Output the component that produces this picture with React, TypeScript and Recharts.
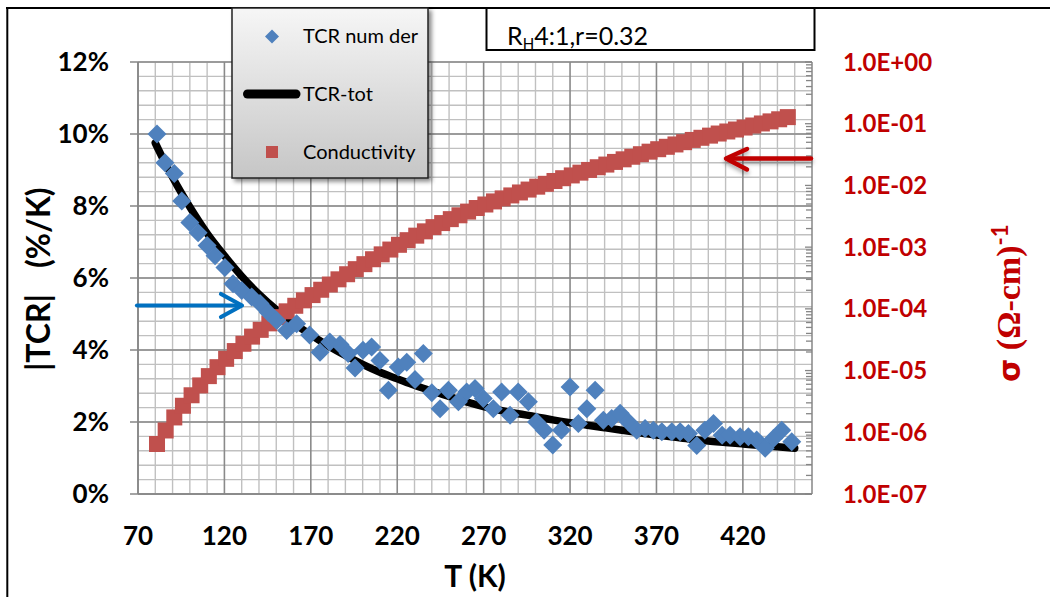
import React from 'react';
import { ComposedChart, XAxis, YAxis, CartesianGrid, Scatter, Line } from 'recharts';

// ---- data ----
const TCR_T = [
  81, 85.6, 91, 95.3, 100, 104.8, 110, 114.6, 120.3, 125,
  130, 135.8, 140.6, 145.4, 150.3, 156, 161.8, 169.3, 175.3, 181,
  186.9, 191.6, 195.6, 200.2, 205.2, 210, 214.9, 220.6, 225.5, 230.3,
  235.1, 240, 244.8, 249.6, 255.4, 260.2, 265, 269.8, 275.6, 280.4,
  285.3, 290, 295.9, 300.6, 305, 310, 315, 320, 324.8, 329.7,
  334.5, 339.3, 344.1, 349, 353.8, 358.6, 363.4, 368.2, 373.1, 378.9,
  383.7, 388.5, 393.3, 398, 403, 408, 412.6, 418.4, 423.2, 428,
  432.9, 437.7, 442.5, 448.3,
];
const TCR_NUM_DER = [
  10.0, 9.2, 8.9, 8.14, 7.54, 7.26, 6.9, 6.62, 6.29, 5.84,
  5.65, 5.47, 5.29, 5.04, 4.82, 4.54, 4.73, 4.42, 3.94, 4.22,
  4.15, 3.9, 3.5, 3.99, 4.08, 3.71, 2.88, 3.53, 3.66, 3.18,
  3.9, 2.81, 2.37, 2.88, 2.56, 2.83, 2.93, 2.65, 2.37, 2.83,
  2.19, 2.83, 2.56, 2.0, 1.77, 1.36, 1.77, 2.97, 1.96, 2.37,
  2.88, 2.05, 2.1, 2.24, 2.0, 1.77, 1.82, 1.77, 1.73, 1.73,
  1.73, 1.68, 1.35, 1.77, 1.96, 1.63, 1.63, 1.59, 1.59, 1.5,
  1.27, 1.54, 1.77, 1.45,
];

const TOT_T = [
  80, 85, 90, 95, 100, 110, 120, 130, 140, 150, 160, 170, 180, 190, 200,
  210, 220, 230, 240, 250, 260, 270, 280, 290, 300, 310, 320, 330, 340,
  350, 360, 370, 380, 390, 400, 410, 420, 430, 440, 450,
];
const TCR_TOT = [
  9.75, 9.26, 8.8, 8.37, 7.97, 7.24, 6.62, 6.05, 5.55, 5.12, 4.75, 4.42, 4.12, 3.85, 3.6,
  3.38, 3.2, 3.02, 2.86, 2.71, 2.56, 2.43, 2.32, 2.23, 2.15, 2.06, 1.98, 1.91, 1.84,
  1.77, 1.7, 1.64, 1.58, 1.52, 1.47, 1.43, 1.39, 1.35, 1.31, 1.27,
];

const COND_T = [
  81, 86, 91, 96, 101, 106, 111, 116, 121, 126, 131, 136, 141, 146, 151, 156, 161, 166,
  171, 176, 181, 186, 191, 196, 201, 206, 211, 216, 221, 226, 231, 236, 241, 246, 251,
  256, 261, 266, 271, 276, 281, 286, 291, 296, 301, 306, 311, 316, 321, 326, 331, 336,
  341, 346, 351, 356, 361, 366, 371, 376, 381, 386, 391, 396, 401, 406, 411, 416, 421,
  426, 431, 436, 441, 446,
];
const CONDUCTIVITY = [
  6.46e-7,
  1.07e-6, 1.74e-6, 2.69e-6, 3.98e-6, 5.75e-6, 8.13e-6,
  1.135e-5, 1.55e-5, 2.07e-5, 2.72e-5, 3.55e-5, 4.57e-5, 5.82e-5, 7.33e-5, 9.12e-5,
  1.122e-4, 1.374e-4, 1.671e-4, 2.04e-4, 2.48e-4, 3.01e-4, 3.64e-4, 4.4e-4, 5.3e-4, 6.37e-4, 7.64e-4, 9.14e-4,
  1.091e-3, 1.297e-3, 1.535e-3, 1.803e-3, 2.109e-3, 2.455e-3, 2.844e-3, 3.281e-3, 3.767e-3, 4.305e-3,
  4.909e-3, 5.508e-3, 6.166e-3, 6.887e-3, 7.691e-3, 8.57e-3, 9.55e-3,
  1.062e-2, 1.18e-2, 1.309e-2, 1.452e-2, 1.611e-2, 1.782e-2, 1.972e-2, 2.178e-2, 2.404e-2, 2.649e-2,
  2.917e-2, 3.206e-2, 3.524e-2, 3.864e-2, 4.227e-2, 4.613e-2, 5.023e-2, 5.458e-2, 5.916e-2, 6.412e-2,
  6.934e-2, 7.482e-2, 8.054e-2, 8.67e-2, 9.354e-2,
  0.1009, 0.1091, 0.118, 0.1279,
];

const X_TICKS = [70, 120, 170, 220, 270, 320, 370, 420];
const X_MINOR = [80, 90, 100, 110, 130, 140, 150, 160, 180, 190, 200, 210, 230, 240, 250, 260,
  280, 290, 300, 310, 330, 340, 350, 360, 380, 390, 400, 410, 430, 440, 450];
const LEFT_TICKS = [0, 2, 4, 6, 8, 10, 12];
const RIGHT_DECADES = [1e-7, 1e-6, 1e-5, 1e-4, 1e-3, 1e-2, 1e-1, 1];
const RIGHT_MINOR_MULT = [2, 3, 4, 5, 6, 7, 8, 9];

const LEFT_MINOR: number[] = [];
for (let i = 0; i <= 30; i++) LEFT_MINOR.push(Math.round(i * 4) / 10);
const RIGHT_TICKS: number[] = [];
RIGHT_DECADES.forEach((d, i) => {
  RIGHT_TICKS.push(d);
  if (i < RIGHT_DECADES.length - 1) RIGHT_MINOR_MULT.forEach((m) => RIGHT_TICKS.push(m * d));
});

const tcrData = TCR_T.map((T, i) => ({ T, v: TCR_NUM_DER[i] }));
const totData = TOT_T.map((T, i) => ({ T, v: TCR_TOT[i] }));
const condData = COND_T.map((T, i) => ({ T, v: CONDUCTIVITY[i] }));

const FONT = "Lato, 'Open Sans', 'DejaVu Sans', sans-serif";
const BLUE = '#4F81BD';
const RED = '#C0504D';
const DARK_RED = '#C00000';
const AXIS_GRAY = '#868686';
const RIGHT_MARGIN = 31;

const fmtExp = (v: number) => {
  const e = Math.round(Math.log10(v));
  return `1.0E${e < 0 ? '-' : '+'}${String(Math.abs(e)).padStart(2, '0')}`;
};

const RightTick = (props: any) => {
  const { x, y, payload } = props;
  const v = payload.value as number;
  const lg = Math.log10(v);
  const major = Math.abs(lg - Math.round(lg)) < 1e-6;
  const ax = x - RIGHT_MARGIN;
  return (
    <g>
      <line x1={ax - (major ? 7 : 6)} x2={ax} y1={y} y2={y} stroke={AXIS_GRAY} strokeWidth={1.3} />
      {major && (
        <text x={x} y={y} dy="0.36em" textAnchor="start" fill={DARK_RED}
          style={{ fontFamily: FONT, fontSize: 24, fontWeight: 700 }}>
          {fmtExp(v)}
        </text>
      )}
    </g>
  );
};

const Diamond = (props: any) => {
  const { cx, cy } = props;
  if (cx == null || cy == null) return null;
  const r = 9.5;
  return <path d={`M${cx},${cy - r}L${cx + r},${cy}L${cx},${cy + r}L${cx - r},${cy}Z`} fill={BLUE} />;
};

const Square = (props: any) => {
  const { cx, cy } = props;
  if (cx == null || cy == null) return null;
  const s = 16;
  return <rect x={cx - s / 2} y={cy - s / 2} width={s} height={s} fill={RED} />;
};

const tickStyle = { fontFamily: FONT, fontSize: 26, fontWeight: 700, fill: '#000' };

export default function App() {
  return (
    <div style={{ position: 'fixed', left: 0, top: 0, width: 1050, height: 597, background: '#fff', overflow: 'hidden' }}>
      <ComposedChart width={1050} height={597} margin={{ top: 62, right: 0, bottom: 0, left: 0 }}>
        <CartesianGrid yAxisId="left" horizontalValues={LEFT_MINOR} verticalValues={X_MINOR}
          stroke="#c0c0c0" strokeWidth={1.4} />
        <CartesianGrid yAxisId="left" horizontalValues={LEFT_TICKS} verticalValues={X_TICKS}
          stroke="#8a8a8a" strokeWidth={1.6} />
        <XAxis type="number" dataKey="T" domain={[70, 460]} ticks={X_TICKS} interval={0}
          allowDataOverflow height={103} tickSize={0} tickMargin={33} tickLine={false}
          axisLine={{ stroke: AXIS_GRAY, strokeWidth: 1.5 }} tick={tickStyle} />
        <YAxis yAxisId="left" orientation="left" width={138} domain={[0, 12]} ticks={LEFT_TICKS}
          interval={0} allowDataOverflow tickFormatter={(v: number) => `${v}%`}
          tickSize={8} tickMargin={21} tickLine={{ stroke: AXIS_GRAY, strokeWidth: 1.5 }}
          axisLine={{ stroke: AXIS_GRAY, strokeWidth: 1.5 }} tick={tickStyle} />
        <YAxis yAxisId="right" orientation="right" width={238} scale="log" domain={[1e-7, 1]}
          ticks={RIGHT_TICKS} interval={0} allowDataOverflow tickSize={0} tickMargin={RIGHT_MARGIN}
          tickLine={false} axisLine={{ stroke: AXIS_GRAY, strokeWidth: 1.5 }} tick={<RightTick />} />
        <Line yAxisId="left" data={totData} dataKey="v" name="TCR-tot" type="monotone"
          stroke="#000" strokeWidth={7.5} strokeLinecap="round" strokeLinejoin="round"
          dot={false} activeDot={false} isAnimationActive={false} />
        <Scatter yAxisId="right" data={condData} dataKey="v" name="Conductivity"
          shape={<Square />} isAnimationActive={false} />
        <Scatter yAxisId="left" data={tcrData} dataKey="v" name="TCR num der"
          shape={<Diamond />} isAnimationActive={false} />
      </ComposedChart>

      <svg width={1050} height={597} style={{ position: 'absolute', left: 0, top: 0, pointerEvents: 'none' }}>
        <defs>
          <linearGradient id="legGrad" x1="0" y1="0" x2="0" y2="1">
            <stop offset="0" stopColor="#f6f6f6" />
            <stop offset="1" stopColor="#c6c6c6" />
          </linearGradient>
          <filter id="legShadow" x="-10%" y="-10%" width="130%" height="130%">
            <feDropShadow dx="3" dy="3" stdDeviation="2" floodColor="#000" floodOpacity="0.45" />
          </filter>
          <filter id="arrShadow" x="-10%" y="-50%" width="130%" height="250%">
            <feDropShadow dx="0" dy="3" stdDeviation="2" floodColor="#000" floodOpacity="0.35" />
          </filter>
        </defs>

        {/* outer border */}
        <line x1={6} y1={8} x2={1050} y2={8} stroke="#000" strokeWidth={2} />
        <line x1={7.3} y1={7} x2={7.3} y2={597} stroke="#000" strokeWidth={2} />

        {/* axis titles */}
        <g transform="rotate(-90 50 371)">
          <text x={50} y={371} style={{ fontFamily: FONT, fontSize: 32, fontWeight: 700 }} fill="#000">|TCR|</text>
        </g>
        <g transform="rotate(-90 50 268)">
          <text x={50} y={268} style={{ fontFamily: FONT, fontSize: 32, fontWeight: 700 }} fill="#000">(%/K)</text>
        </g>
        <text x={475} y={587} textAnchor="middle" style={{ fontFamily: FONT, fontSize: 30, fontWeight: 700 }} fill="#000">T (K)</text>
        <g transform="rotate(-90 1020 382)">
          <text x={1020} y={382} fill={DARK_RED}>
            <tspan style={{ fontFamily: "'DejaVu Sans', sans-serif", fontSize: 30, fontWeight: 700 }}>σ</tspan>
            <tspan style={{ fontFamily: "'Liberation Serif', 'DejaVu Serif', serif", fontSize: 34, fontWeight: 700 }}> (Ω-cm)</tspan>
            <tspan dy={-12} style={{ fontFamily: FONT, fontSize: 22, fontWeight: 700 }}>-1</tspan>
          </text>
        </g>

        {/* text box */}
        <rect x={486.5} y={8} width={328} height={42} fill="#fff" stroke="#000" strokeWidth={2} />
        <text x={507} y={45} style={{ fontFamily: FONT, fontSize: 25 }} fill="#000">
          R<tspan dy={4} style={{ fontSize: 15 }}>H</tspan><tspan dy={-4}>4:1,r=0.32</tspan>
        </text>

        {/* legend */}
        <rect x={232} y={8} width={196} height={170} fill="url(#legGrad)" stroke="#222" strokeWidth={1.5} filter="url(#legShadow)" />
        <path d="M272,29.5L279,36.5L272,43.5L265,36.5Z" fill={BLUE} />
        <text x={303} y={43} style={{ fontFamily: FONT, fontSize: 20 }} fill="#000">TCR num der</text>
        <line x1={247.5} y1={94} x2={296} y2={94} stroke="#000" strokeWidth={9} strokeLinecap="round" />
        <text x={303} y={101} style={{ fontFamily: FONT, fontSize: 20 }} fill="#000">TCR-tot</text>
        <rect x={266} y={146} width={12} height={12} fill={RED} />
        <text x={303} y={159} style={{ fontFamily: FONT, fontSize: 20 }} fill="#000">Conductivity</text>

        {/* arrows */}
        <g stroke="#0070C0" strokeWidth={4.2} strokeLinecap="round" strokeLinejoin="round" fill="none">
          <line x1={137} y1={305.5} x2={240} y2={305.5} />
          <polyline points="221,294 242,305.5 221,317" />
        </g>
        <g stroke={DARK_RED} strokeWidth={4.5} strokeLinecap="round" strokeLinejoin="round" fill="none" filter="url(#arrShadow)">
          <line x1={811} y1={158.5} x2={728} y2={158.5} />
          <polyline points="747,149 726,158.5 747,169.5" />
        </g>
      </svg>
    </div>
  );
}
